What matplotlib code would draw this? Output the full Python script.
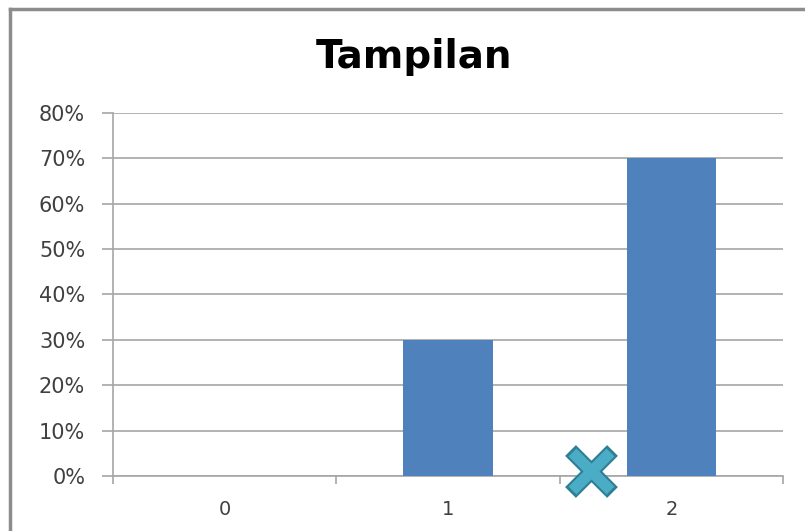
import matplotlib.pyplot as plt
from matplotlib.lines import Line2D
from matplotlib.ticker import PercentFormatter

categories = ["0", "1", "2"]
values = [0.0, 0.30, 0.70]
cross_pos = (1.64, 0.01)

fig = plt.figure(figsize=(8.05, 5.31), dpi=100)
ax = fig.add_axes([0.1404, 0.1036, 0.8325, 0.6836])

x = range(len(categories))
ax.bar(x, values, width=0.4, color="#4F81BD", zorder=3)

ax.set_xlim(-0.5, len(categories) - 0.5)
ax.set_ylim(0, 0.8)
ax.set_yticks([i / 10 for i in range(9)])
ax.yaxis.set_major_formatter(PercentFormatter(1.0, decimals=0))
ax.grid(axis="y", color="#A6A6A6", linewidth=1.2, zorder=0)

ax.set_xticks(list(x))
ax.set_xticklabels(categories)
ax.set_xticks([i - 0.5 for i in range(len(categories) + 1)], minor=True)
ax.tick_params(axis="x", which="major", length=0, pad=17, labelsize=14, labelcolor="#404040")
ax.tick_params(axis="x", which="minor", length=6, width=1.2, color="#A6A6A6")
ax.tick_params(axis="y", length=8, width=1.2, color="#A6A6A6", labelsize=15, labelcolor="#404040", pad=12)

for side in ["top", "right"]:
    ax.spines[side].set_visible(False)
for side in ["left", "bottom"]:
    ax.spines[side].set_color("#A6A6A6")
    ax.spines[side].set_linewidth(1.2)

fig.suptitle("Tampilan", fontsize=28, fontweight="bold", x=0.514, y=0.928)

# teal cross sitting on the axis line: dark outline underneath, lighter face on top
ax.plot(*cross_pos, marker="x", markersize=30, color="#2E7F95",
        markeredgewidth=11, clip_on=False, zorder=5)
ax.plot(*cross_pos, marker="x", markersize=28, color="#4BACC6",
        markeredgewidth=8, clip_on=False, zorder=6)

# chart area frame (top and left edges)
fig.add_artist(Line2D([0.013, 1.0], [0.983, 0.983], color="#8C8C8C", linewidth=2.5))
fig.add_artist(Line2D([0.013, 0.013], [0.0, 0.983], color="#8C8C8C", linewidth=2.5))

fig.savefig("out.png", dpi=100)
